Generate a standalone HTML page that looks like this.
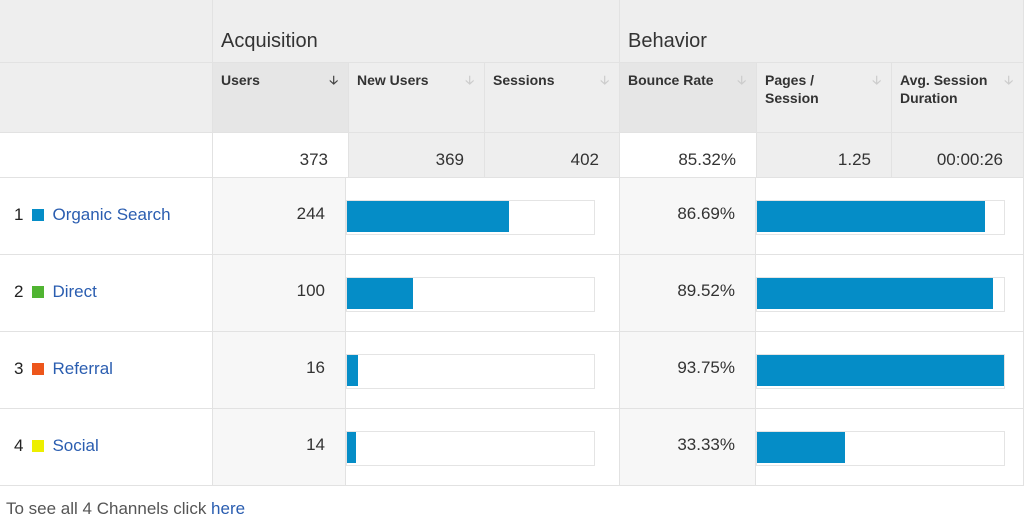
<!DOCTYPE html>
<html><head><meta charset="utf-8"><style>
body{margin:0;width:1024px;height:512px;overflow:hidden;background:#fff;font-family:"Liberation Sans",sans-serif;color:#333;position:relative}
.a{position:absolute;box-sizing:border-box}
.g{background:#eeeeee}.d{background:#e6e6e6}.l{background:#f7f7f7}.w{background:#fff}
.bd{border-right:1px solid #e2e2e2;border-bottom:1px solid #e2e2e2}
.h{font-size:20px;color:#333;padding:30px 0 0 8px}
.s{font-size:14px;font-weight:bold;color:#333;padding:8px 8px;line-height:18px}
.ar{position:absolute;right:10px;top:8px;font-size:12px;color:#ccc}
.n{font-size:17px;text-align:right;padding-right:20px}
.track{position:absolute;border:1px solid #e4e4e4;background:#fff;height:33px}
.bar{position:absolute;left:0;top:0;height:31px;background:#058dc7}
.lab{font-size:17px;color:#222}
.lab a{color:#2a5db0;text-decoration:none}
.sw{display:inline-block;width:12px;height:12px;margin:0 8px 0 9px;vertical-align:-1px}
</style></head><body>
<div class="a g bd" style="left:0;top:0;width:213px;height:63px"></div>
<div class="a g bd h" style="left:213px;top:0;width:407px;height:63px">Acquisition</div>
<div class="a g bd h" style="left:620px;top:0;width:404px;height:63px">Behavior</div>
<div class="a g bd" style="left:0;top:63px;width:213px;height:70px"></div>
<div class="a d bd s" style="left:213px;top:63px;width:136px;height:70px">Users<span class="ar" style="color:#444">&#129123;</span></div>
<div class="a g bd s" style="left:349px;top:63px;width:136px;height:70px">New Users<span class="ar">&#129123;</span></div>
<div class="a g bd s" style="left:485px;top:63px;width:135px;height:70px">Sessions<span class="ar">&#129123;</span></div>
<div class="a d bd s" style="left:620px;top:63px;width:137px;height:70px">Bounce Rate<span class="ar">&#129123;</span></div>
<div class="a g bd s" style="left:757px;top:63px;width:135px;height:70px">Pages /<br>Session<span class="ar">&#129123;</span></div>
<div class="a g bd s" style="left:892px;top:63px;width:132px;height:70px">Avg. Session<br>Duration<span class="ar">&#129123;</span></div>
<div class="a w bd" style="left:0;top:133px;width:213px;height:45px"></div>
<div class="a w bd n" style="left:213px;top:133px;width:136px;height:45px;padding-top:17px">373</div>
<div class="a g bd n" style="left:349px;top:133px;width:136px;height:45px;padding-top:17px">369</div>
<div class="a g bd n" style="left:485px;top:133px;width:135px;height:45px;padding-top:17px">402</div>
<div class="a w bd n" style="left:620px;top:133px;width:137px;height:45px;padding-top:17px">85.32%</div>
<div class="a g bd n" style="left:757px;top:133px;width:135px;height:45px;padding-top:17px">1.25</div>
<div class="a g bd n" style="left:892px;top:133px;width:132px;height:45px;padding-top:17px">00:00:26</div>
<div id="rows"></div>
<div class="a" style="left:6px;top:499px;font-size:17px;color:#555">To see all 4 Channels click <a style="color:#2a5db0;text-decoration:none">here</a></div>
<script>
const channels=["Organic Search","Direct","Referral","Social"];
const colors=["#058dc7","#50b432","#ed561b","#edef00"];
const users=[244,100,16,14];
const usersTotal=373;
const bounce=[86.69,89.52,93.75,33.33];
const root=document.getElementById('rows');
const trackW=247;
const bmax=Math.max(...bounce);
channels.forEach((c,i)=>{
  const top=178+i*77;
  const h=`
  <div class="a w bd lab" style="left:0;top:${top}px;width:213px;height:77px;padding:27px 0 0 14px">${i+1}<span class="sw" style="background:${colors[i]}"></span><a>${c}</a></div>
  <div class="a l bd n" style="left:213px;top:${top}px;width:133px;height:77px;padding-top:26px">${users[i]}</div>
  <div class="a w bd" style="left:346px;top:${top}px;width:274px;height:77px"><div class="track" style="left:0;top:22px;width:${trackW}px"><div class="bar" style="width:${users[i]/usersTotal*trackW}px"></div></div></div>
  <div class="a l bd n" style="left:620px;top:${top}px;width:136px;height:77px;padding-top:26px">${bounce[i].toFixed(2)}%</div>
  <div class="a w bd" style="left:756px;top:${top}px;width:268px;height:77px"><div class="track" style="left:0;top:22px;width:${trackW}px"><div class="bar" style="width:${bounce[i]/bmax*trackW}px"></div></div></div>`;
  root.insertAdjacentHTML('beforeend',h);
});
</script>
</body></html>
